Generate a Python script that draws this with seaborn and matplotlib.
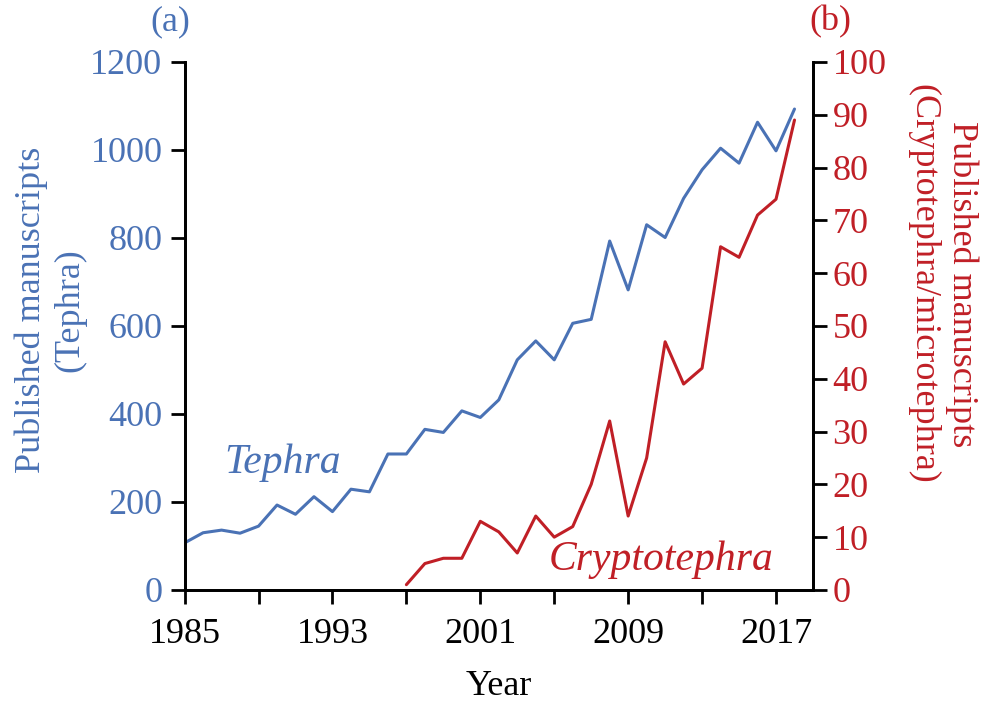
import numpy as np
import pandas as pd
import seaborn as sns
import matplotlib.pyplot as plt
from matplotlib.ticker import MultipleLocator, FixedLocator

# Data
years_tephra = list(range(1985, 2019))
tephra = [107, 130, 136, 129, 145, 193, 172, 212, 178, 229, 223, 309, 309,
          365, 358, 407, 392, 432, 523, 566, 523, 606, 615, 793, 682, 830,
          801, 890, 955, 1004, 970, 1063, 998, 1093]

years_crypto = list(range(1997, 2019))
crypto = [1, 5, 6, 6, 13, 11, 7, 14, 10, 12, 20, 32, 14, 25, 47, 39, 42,
          65, 63, 71, 74, 89]

df_t = pd.DataFrame({"Year": years_tephra, "Count": tephra})
df_c = pd.DataFrame({"Year": years_crypto, "Count": crypto})

blue = "#4a72b5"
red = "#c01f26"

sns.set_theme(style="ticks")
plt.rcParams["font.family"] = ["Liberation Serif", "DejaVu Serif"]
plt.rcParams["axes.linewidth"] = 2.0

fig = plt.figure(figsize=(9.84, 7.04), dpi=100)
ax = fig.add_axes([0.1876, 0.162, 0.6386, 0.75])
ax2 = ax.twinx()

sns.lineplot(data=df_t, x="Year", y="Count", ax=ax, color=blue, linewidth=2.2)
sns.lineplot(data=df_c, x="Year", y="Count", ax=ax2, color=red, linewidth=2.2)

ax.set_xlim(1985, 2019)
ax.set_ylim(0, 1200)
ax2.set_ylim(0, 100)

ax.xaxis.set_major_locator(FixedLocator([1985, 1993, 2001, 2009, 2017]))
ax.xaxis.set_minor_locator(FixedLocator([1989, 1997, 2005, 2013]))
ax.yaxis.set_major_locator(MultipleLocator(200))
ax2.yaxis.set_major_locator(MultipleLocator(10))

fs = 26
ax.tick_params(axis="x", which="both", direction="out", length=10, width=2,
               labelsize=fs, colors="black", pad=10)
ax.tick_params(axis="y", direction="out", length=10, width=2, labelsize=fs,
               labelcolor=blue, color="black", pad=6)
ax2.tick_params(axis="y", direction="out", length=10, width=2, labelsize=fs,
                labelcolor=red, color="black", pad=4)

for a in (ax, ax2):
    a.spines["top"].set_visible(False)
    for s in ("left", "right", "bottom"):
        a.spines[s].set_color("black")
        a.spines[s].set_linewidth(2.0)

ax.set_xlabel("Year", fontsize=fs, color="black", labelpad=14)
ax.set_ylabel("Published manuscripts\n(Tephra)", fontsize=fs, color=blue,
              labelpad=3, linespacing=1.2)
ax2.set_ylabel("Published manuscripts\n(Cryptotephra/microtephra)", fontsize=fs,
               color=red, rotation=270, labelpad=66, linespacing=1.2)
ax.yaxis.label.set_y(0.53)
ax2.yaxis.label.set_y(0.58)

ax.text(1990.3, 289, "Tephra", fontsize=30, style="italic", color=blue,
        ha="center", va="center")
ax2.text(2010.8, 5.7, "Cryptotephra", fontsize=30, style="italic", color=red,
         ha="center", va="center")

fig.text(170 / 984, 1 - 22 / 704, "(a)", fontsize=fs, color=blue,
         ha="center", va="center")
fig.text(830 / 984, 1 - 22 / 704, "(b)", fontsize=fs, color=red,
         ha="center", va="center")

fig.savefig("out.png", dpi=100, facecolor="white")
